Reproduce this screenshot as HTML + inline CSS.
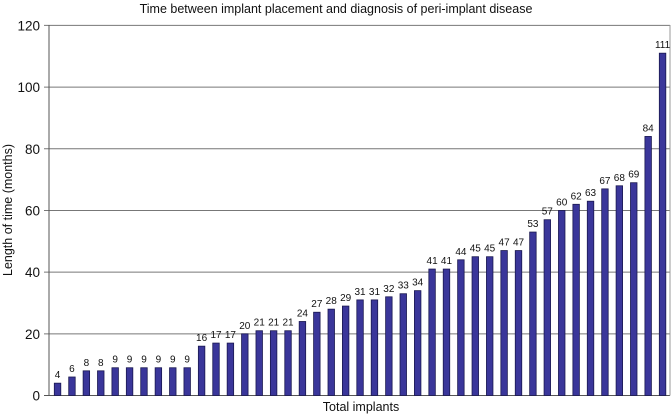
<!DOCTYPE html>
<html><head><meta charset="utf-8"><style>
html,body{margin:0;padding:0;background:#fff}
svg{display:block;font-family:"Liberation Sans",Arial,sans-serif}
</style></head><body>
<svg id="c" width="672" height="415" xmlns="http://www.w3.org/2000/svg">
<text x="336" y="13" font-size="12.5" text-anchor="middle" fill="#111">Time between implant placement and diagnosis of peri-implant disease</text>
<text x="361" y="411" font-size="12.5" text-anchor="middle" fill="#111">Total implants</text>
<text transform="translate(12,210) rotate(-90)" font-size="12.5" text-anchor="middle" fill="#111">Length of time (months)</text>
<g id="g"></g>
</svg>
<script>
var vals=[4,6,8,8,9,9,9,9,9,9,16,17,17,20,21,21,21,24,27,28,29,31,31,32,33,34,41,41,44,45,45,47,47,53,57,60,62,63,67,68,69,84,111];
var s='';var y0=395.5,k=3.084;
for(var t=0;t<=120;t+=20){var y=y0-t*k;
 s+='<line x1="44" x2="670" y1="'+y+'" y2="'+y+'" stroke="'+(t==0?'#555':'#777')+'" stroke-width="1"/>';
 s+='<text x="40" y="'+(y+5)+'" font-size="13.5" text-anchor="end" fill="#111">'+t+'</text>';}
s+='<line x1="49" x2="49" y1="25" y2="395.5" stroke="#555"/>';
s+='<line x1="670" x2="670" y1="25" y2="395.5" stroke="#999"/>';
for(var i=0;i<vals.length;i++){var v=vals[i];var x=54.3+i*14.405;var h=v*k;
 s+='<rect x="'+x+'" y="'+(y0-h)+'" width="6.5" height="'+h+'" fill="#3a369a" stroke="#1a1850" stroke-width="0.8"/>';
 s+='<text x="'+(x+3.25)+'" y="'+(y0-h-5)+'" font-size="10" text-anchor="middle" fill="#111">'+v+'</text>';}
document.getElementById('g').innerHTML=s;
</script>
</body></html>
